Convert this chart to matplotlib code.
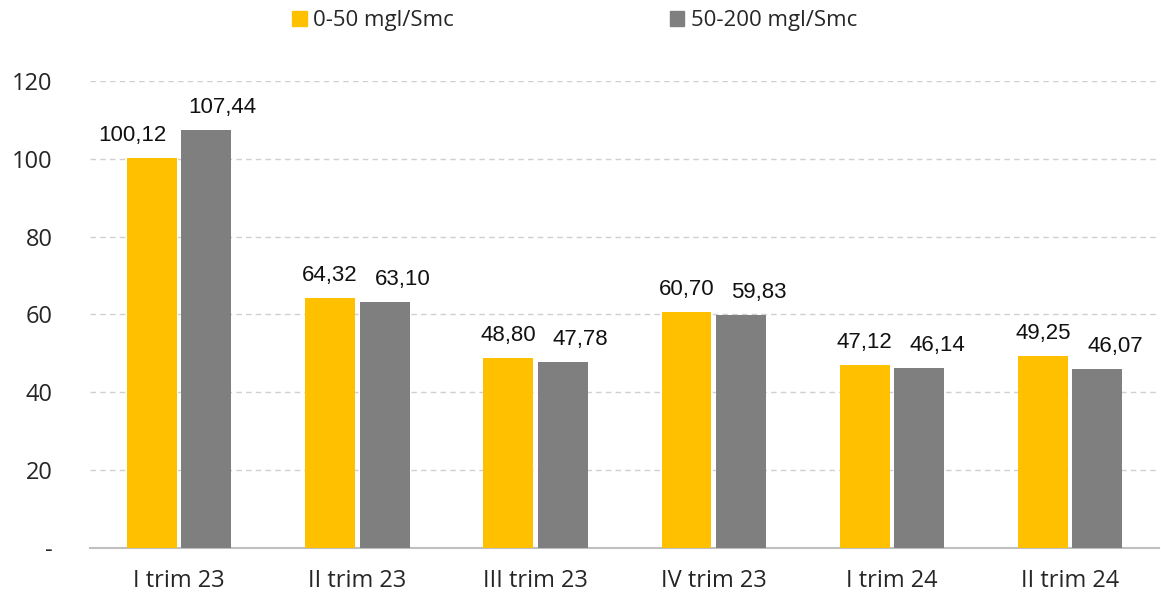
import matplotlib
matplotlib.use("Agg")
import matplotlib.pyplot as plt
import matplotlib.ticker as ticker
from matplotlib.patches import Patch
import numpy as np

# Prezzi medi per trimestre e fascia di concentrazione
trimestri = ["I trim 23", "II trim 23", "III trim 23", "IV trim 23", "I trim 24", "II trim 24"]
serie_labels = ["0-50 mgl/Smc", "50-200 mgl/Smc"]
fascia_0_50 = [100.12, 64.32, 48.80, 60.70, 47.12, 49.25]
fascia_50_200 = [107.44, 63.10, 47.78, 59.83, 46.14, 46.07]
colori = ["#FFC000", "#7F7F7F"]

plt.rcParams["font.family"] = ["Open Sans", "DejaVu Sans"]

fig = plt.figure(figsize=(11.61, 5.98), dpi=100)
ax = fig.add_axes([0.0775, 0.0836, 0.921, 0.781])

x = np.arange(len(trimestri))
bar_w = 0.28
off = 0.153

b1 = ax.bar(x - off, fascia_0_50, bar_w, color=colori[0], zorder=3)
b2 = ax.bar(x + off, fascia_50_200, bar_w, color=colori[1], zorder=3)

def fmt(v):
    return f"{v:.2f}".replace(".", ",")

# etichette valori (spostamenti in pixel)
for i, v in enumerate(fascia_0_50):
    dx = -19 if i == 0 else 0
    ax.annotate(fmt(v), (x[i] - off, v), xytext=(dx, 12), textcoords="offset pixels",
                ha="center", va="bottom", fontsize=16, family="Liberation Sans", color="#111111")
for i, v in enumerate(fascia_50_200):
    dx = 16 if i == 0 else 18
    ax.annotate(fmt(v), (x[i] + off, v), xytext=(dx, 12), textcoords="offset pixels",
                ha="center", va="bottom", fontsize=16, family="Liberation Sans", color="#111111")

ax.set_xlim(-0.5, len(trimestri) - 0.5)
ax.set_ylim(0, 120)
ax.set_yticks(range(0, 121, 20))
ax.yaxis.set_major_formatter(ticker.FuncFormatter(lambda v, p: "-" if v == 0 else f"{v:.0f}"))
ax.set_xticks(x)
ax.set_xticklabels(trimestri)

ax.grid(axis="y", color="#D0D0D0", linestyle=(0, (4, 3)), linewidth=1, zorder=0)
ax.set_axisbelow(True)
for s in ["top", "right", "left"]:
    ax.spines[s].set_visible(False)
ax.spines["bottom"].set_color("#BFBFBF")
ax.spines["bottom"].set_linewidth(1.5)
ax.tick_params(axis="both", length=0, labelsize=17, colors="#262626")
ax.tick_params(axis="y", pad=27)
ax.tick_params(axis="x", pad=15)

handles = [Patch(color=c) for c in colori]
fig.legend(handles, serie_labels, loc="center", bbox_to_anchor=(0.495, 0.965), ncol=2,
           frameon=False, fontsize=16, handlelength=0.65, handleheight=0.65,
           handletextpad=0.3, columnspacing=9.7, labelcolor="#262626")

fig.savefig("out.png", dpi=100)
